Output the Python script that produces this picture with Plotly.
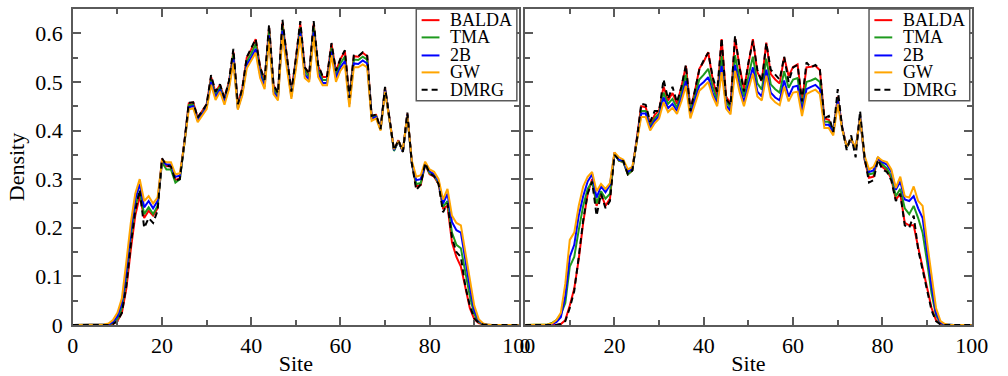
import plotly.graph_objects as go

sites = list(range(0, 101))
series_names = ["BALDA", "TMA", "2B", "GW", "DMRG"]
series_colors = ["#ff0000", "#1e9a1e", "#0000ff", "#ffa500", "#000000"]
x_ticks = [0, 20, 40, 60, 80, 100]
y_ticks = [0, 0.1, 0.2, 0.3, 0.4, 0.5, 0.6]

# ---------------- left panel ----------------
left_balda = [0, 0, 0, 0, 0, 0, 0, 0, 0, 0.002, 0.008, 0.025, 0.075, 0.155, 0.225, 0.265, 0.22, 0.235, 0.225, 0.24,
              0.342, 0.327, 0.326, 0.298, 0.302, 0.375, 0.456, 0.458, 0.426, 0.44, 0.454, 0.51, 0.478, 0.494, 0.467, 0.5,
              0.562, 0.453, 0.487, 0.55, 0.567, 0.588, 0.53, 0.503, 0.612, 0.493, 0.476, 0.622, 0.55, 0.48, 0.547, 0.62,
              0.53, 0.516, 0.62, 0.533, 0.51, 0.51, 0.578, 0.522, 0.547, 0.563, 0.466, 0.553, 0.552, 0.56, 0.553, 0.43,
              0.432, 0.403, 0.488, 0.42, 0.36, 0.38, 0.356, 0.435, 0.333, 0.285, 0.288, 0.33, 0.31, 0.305, 0.29, 0.24,
              0.245, 0.17, 0.14, 0.12, 0.075, 0.035, 0.012, 0.004, 0.001, 0, 0, 0, 0, 0, 0, 0, 0]
left_tma = [0, 0, 0, 0, 0, 0, 0, 0, 0.001, 0.004, 0.012, 0.035, 0.095, 0.18, 0.245, 0.275, 0.228, 0.242, 0.228, 0.245,
            0.335, 0.32, 0.32, 0.293, 0.3, 0.372, 0.452, 0.453, 0.422, 0.436, 0.45, 0.505, 0.473, 0.49, 0.462, 0.495,
            0.556, 0.447, 0.48, 0.542, 0.558, 0.578, 0.522, 0.496, 0.605, 0.486, 0.47, 0.615, 0.543, 0.474, 0.54, 0.612,
            0.523, 0.51, 0.612, 0.526, 0.504, 0.504, 0.57, 0.515, 0.538, 0.552, 0.46, 0.546, 0.545, 0.552, 0.546, 0.427,
            0.43, 0.402, 0.486, 0.418, 0.358, 0.378, 0.356, 0.433, 0.333, 0.29, 0.292, 0.33, 0.312, 0.307, 0.292, 0.243,
            0.255, 0.19, 0.165, 0.158, 0.105, 0.06, 0.022, 0.006, 0.001, 0, 0, 0, 0, 0, 0, 0, 0]
left_2b = [0, 0, 0, 0, 0, 0, 0, 0, 0.001, 0.006, 0.018, 0.045, 0.11, 0.195, 0.258, 0.29, 0.242, 0.255, 0.24, 0.255,
           0.338, 0.33, 0.33, 0.305, 0.307, 0.373, 0.448, 0.45, 0.42, 0.434, 0.448, 0.5, 0.468, 0.485, 0.458, 0.49,
           0.548, 0.445, 0.476, 0.535, 0.55, 0.568, 0.515, 0.49, 0.596, 0.48, 0.466, 0.605, 0.535, 0.47, 0.533, 0.602,
           0.515, 0.505, 0.602, 0.518, 0.498, 0.498, 0.562, 0.508, 0.53, 0.543, 0.455, 0.538, 0.537, 0.544, 0.538, 0.425,
           0.428, 0.402, 0.484, 0.418, 0.36, 0.378, 0.357, 0.432, 0.335, 0.298, 0.3, 0.33, 0.316, 0.31, 0.296, 0.25,
           0.27, 0.212, 0.195, 0.19, 0.13, 0.078, 0.03, 0.009, 0.002, 0, 0, 0, 0, 0, 0, 0, 0]
left_gw = [0, 0, 0, 0, 0, 0, 0, 0.001, 0.003, 0.01, 0.025, 0.055, 0.13, 0.21, 0.27, 0.30, 0.255, 0.265, 0.25, 0.262,
           0.338, 0.335, 0.335, 0.31, 0.312, 0.372, 0.443, 0.446, 0.417, 0.43, 0.444, 0.494, 0.463, 0.48, 0.453, 0.485,
           0.54, 0.443, 0.472, 0.528, 0.543, 0.56, 0.508, 0.485, 0.588, 0.475, 0.462, 0.597, 0.528, 0.465, 0.526, 0.594,
           0.508, 0.5, 0.594, 0.51, 0.493, 0.493, 0.555, 0.5, 0.523, 0.535, 0.448, 0.53, 0.53, 0.536, 0.53, 0.42,
           0.425, 0.4, 0.48, 0.417, 0.362, 0.378, 0.36, 0.43, 0.338, 0.305, 0.308, 0.336, 0.32, 0.315, 0.3, 0.258,
           0.28, 0.225, 0.21, 0.205, 0.15, 0.09, 0.04, 0.012, 0.003, 0, 0, 0, 0, 0, 0, 0, 0]
left_dmrg = [0, 0, 0, 0, 0, 0, 0, 0, 0, 0.002, 0.008, 0.025, 0.08, 0.165, 0.235, 0.278, 0.20, 0.22, 0.21, 0.235,
             0.343, 0.328, 0.326, 0.297, 0.30, 0.375, 0.457, 0.458, 0.427, 0.44, 0.454, 0.514, 0.48, 0.495, 0.467, 0.502,
             0.568, 0.454, 0.487, 0.551, 0.568, 0.588, 0.53, 0.504, 0.618, 0.494, 0.477, 0.628, 0.552, 0.48, 0.548, 0.625,
             0.53, 0.517, 0.625, 0.535, 0.512, 0.512, 0.58, 0.523, 0.548, 0.565, 0.467, 0.554, 0.553, 0.561, 0.554, 0.43,
             0.433, 0.403, 0.49, 0.42, 0.36, 0.38, 0.356, 0.437, 0.333, 0.278, 0.289, 0.333, 0.312, 0.306, 0.29, 0.232,
             0.25, 0.18, 0.15, 0.14, 0.08, 0.04, 0.014, 0.004, 0.001, 0, 0, 0, 0, 0, 0, 0, 0]

# ---------------- right panel ----------------
right_balda = [0, 0, 0, 0, 0, 0, 0, 0, 0.002, 0.01, 0.04, 0.075, 0.135, 0.21, 0.27, 0.30, 0.245, 0.27, 0.245, 0.26,
               0.355, 0.338, 0.335, 0.31, 0.318, 0.38, 0.45, 0.448, 0.413, 0.432, 0.442, 0.49, 0.462, 0.477, 0.455, 0.49,
               0.533, 0.445, 0.48, 0.527, 0.542, 0.561, 0.505, 0.47, 0.588, 0.47, 0.455, 0.59, 0.532, 0.485, 0.538, 0.588,
               0.52, 0.502, 0.581, 0.516, 0.505, 0.497, 0.551, 0.512, 0.531, 0.536, 0.46, 0.53, 0.531, 0.533, 0.524, 0.425,
               0.422, 0.398, 0.47, 0.407, 0.366, 0.382, 0.36, 0.428, 0.34, 0.303, 0.305, 0.345, 0.325, 0.318, 0.3, 0.258,
               0.27, 0.21, 0.205, 0.205, 0.16, 0.12, 0.075, 0.035, 0.01, 0.002, 0, 0, 0, 0, 0, 0, 0]
right_tma = [0, 0, 0, 0, 0, 0.001, 0.004, 0.01, 0.022, 0.045, 0.12, 0.14, 0.195, 0.245, 0.28, 0.295, 0.25, 0.275, 0.26, 0.27,
             0.352, 0.338, 0.335, 0.31, 0.318, 0.378, 0.44, 0.44, 0.408, 0.425, 0.435, 0.478, 0.455, 0.465, 0.447, 0.478,
             0.515, 0.44, 0.47, 0.505, 0.515, 0.527, 0.49, 0.462, 0.553, 0.46, 0.446, 0.555, 0.505, 0.47, 0.512, 0.552,
             0.497, 0.484, 0.548, 0.495, 0.485, 0.478, 0.522, 0.488, 0.505, 0.508, 0.45, 0.5, 0.503, 0.507, 0.5, 0.418,
             0.418, 0.397, 0.465, 0.405, 0.365, 0.382, 0.36, 0.428, 0.342, 0.31, 0.312, 0.345, 0.33, 0.322, 0.305, 0.265,
             0.28, 0.24, 0.228, 0.245, 0.22, 0.19, 0.13, 0.065, 0.02, 0.004, 0.001, 0, 0, 0, 0, 0, 0]
right_2b = [0, 0, 0, 0, 0, 0, 0.002, 0.006, 0.016, 0.06, 0.14, 0.165, 0.225, 0.265, 0.295, 0.31, 0.262, 0.285, 0.273, 0.288,
            0.353, 0.34, 0.337, 0.315, 0.322, 0.377, 0.435, 0.435, 0.404, 0.42, 0.43, 0.468, 0.446, 0.455, 0.44, 0.468,
            0.502, 0.433, 0.462, 0.492, 0.5, 0.51, 0.477, 0.455, 0.533, 0.452, 0.44, 0.535, 0.49, 0.458, 0.495, 0.53,
            0.48, 0.47, 0.525, 0.478, 0.468, 0.462, 0.503, 0.47, 0.49, 0.492, 0.44, 0.485, 0.49, 0.494, 0.485, 0.412,
            0.412, 0.395, 0.462, 0.404, 0.366, 0.382, 0.362, 0.428, 0.345, 0.315, 0.318, 0.343, 0.335, 0.33, 0.315, 0.278,
            0.295, 0.258, 0.255, 0.265, 0.24, 0.22, 0.15, 0.08, 0.025, 0.005, 0.001, 0, 0, 0, 0, 0, 0]
right_gw = [0, 0, 0, 0, 0, 0.001, 0.003, 0.01, 0.025, 0.085, 0.175, 0.19, 0.245, 0.285, 0.305, 0.315, 0.275, 0.29, 0.28, 0.292,
            0.355, 0.345, 0.34, 0.32, 0.325, 0.375, 0.428, 0.428, 0.4, 0.415, 0.425, 0.458, 0.438, 0.447, 0.434, 0.46,
            0.492, 0.425, 0.455, 0.482, 0.49, 0.5, 0.47, 0.45, 0.52, 0.445, 0.433, 0.523, 0.48, 0.45, 0.485, 0.517,
            0.47, 0.462, 0.513, 0.468, 0.458, 0.452, 0.49, 0.46, 0.478, 0.48, 0.43, 0.475, 0.48, 0.484, 0.475, 0.405,
            0.405, 0.39, 0.455, 0.402, 0.367, 0.383, 0.364, 0.425, 0.348, 0.32, 0.325, 0.345, 0.338, 0.335, 0.32, 0.282,
            0.305, 0.265, 0.262, 0.285, 0.255, 0.245, 0.17, 0.1, 0.035, 0.008, 0.002, 0, 0, 0, 0, 0, 0]
right_dmrg = [0, 0, 0, 0, 0, 0, 0, 0, 0.002, 0.008, 0.035, 0.07, 0.14, 0.215, 0.27, 0.295, 0.225, 0.27, 0.24, 0.255,
              0.35, 0.34, 0.337, 0.31, 0.318, 0.38, 0.455, 0.453, 0.418, 0.44, 0.44, 0.505, 0.465, 0.49, 0.458, 0.49,
              0.535, 0.44, 0.482, 0.525, 0.545, 0.56, 0.51, 0.48, 0.59, 0.465, 0.452, 0.595, 0.53, 0.48, 0.54, 0.585,
              0.525, 0.5, 0.58, 0.525, 0.515, 0.505, 0.552, 0.5, 0.53, 0.535, 0.46, 0.54, 0.53, 0.535, 0.525, 0.425,
              0.43, 0.397, 0.485, 0.405, 0.36, 0.39, 0.345, 0.44, 0.345, 0.293, 0.298, 0.34, 0.32, 0.315, 0.297, 0.255,
              0.27, 0.205, 0.2, 0.225, 0.155, 0.115, 0.07, 0.03, 0.008, 0.001, 0, 0, 0, 0, 0, 0, 0]

left_series = [left_balda, left_tma, left_2b, left_gw, left_dmrg]
right_series = [right_balda, right_tma, right_2b, right_gw, right_dmrg]

FONT = "Liberation Serif"
AXIS_COLOR = "#5a5a5a"

fig = go.Figure()
for panel, (xa, ya, data) in enumerate([("x", "y", left_series), ("x2", "y2", right_series)]):
    for name, color, vals in zip(series_names, series_colors, data):
        fig.add_trace(go.Scatter(
            x=sites, y=vals, mode="lines", name=name, xaxis=xa, yaxis=ya,
            line=dict(color=color, width=2, dash="6px,4px" if name == "DMRG" else "solid"),
            showlegend=False,
        ))

W, H = 1008, 376
axis_common = dict(
    showgrid=False, zeroline=False, showline=True, linecolor=AXIS_COLOR, linewidth=1.5,
    mirror="ticks", ticks="inside", ticklen=8, tickwidth=1.5, tickcolor=AXIS_COLOR,
    tickfont=dict(family=FONT, size=22, color="black"),
)
xaxis_common = dict(axis_common, range=[0, 100], tickvals=x_ticks,
                    minor=dict(ticks="inside", ticklen=5, dtick=10, tick0=0, tickcolor=AXIS_COLOR, tickwidth=1.5),
                    title=dict(text="Site", font=dict(family=FONT, size=22, color="black"), standoff=2))
yaxis_common = dict(axis_common, range=[0, 0.65], tickvals=y_ticks,
                    minor=dict(ticks="inside", ticklen=5, dtick=0.05, tick0=0, tickcolor=AXIS_COLOR, tickwidth=1.5))

fig.update_layout(
    width=W, height=H,
    margin=dict(l=0, r=0, t=9, b=44),
    paper_bgcolor="white", plot_bgcolor="white",
    font=dict(family=FONT, color="black"),
    xaxis=dict(xaxis_common, domain=[68.3 / W, 524.3 / W], anchor="y"),
    yaxis=dict(yaxis_common, domain=[0, 1], anchor="x", ticklabelstandoff=4,
               title=dict(text="Density", font=dict(family=FONT, size=22, color="black"), standoff=4)),
    xaxis2=dict(xaxis_common, domain=[530.7 / W, 987.3 / W], anchor="y2"),
    yaxis2=dict(yaxis_common, domain=[0, 1], anchor="x2", showticklabels=False),
)

# legends drawn inside each panel (top right), built from the series names/colours
row_y = [0.9647, 0.9101, 0.8530, 0.7994, 0.7445]
shapes = []
annotations = []
for xa in ["x", "x2"]:
    yref = f"{'y' if xa == 'x' else 'y2'} domain"
    shapes.append(dict(type="rect", xref=f"{xa} domain", yref=yref,
                       x0=0.770, x1=0.9955, y0=0.710, y1=1.0, fillcolor="white",
                       line=dict(color=AXIS_COLOR, width=1.5), layer="above"))
    for name, color, ry in zip(series_names, series_colors, row_y):
        shapes.append(dict(type="line", xref=f"{xa} domain", yref=yref, x0=0.782, x1=0.822, y0=ry, y1=ry,
                           line=dict(color=color, width=2, dash="6px,4px" if name == "DMRG" else "solid"),
                           layer="above"))
        annotations.append(dict(text=name, xref=f"{xa} domain", yref=yref, x=0.8435, y=ry,
                                xanchor="left", yanchor="middle", showarrow=False, borderpad=0,
                                font=dict(family=FONT, size=18, color="black")))
fig.update_layout(shapes=shapes, annotations=annotations)

fig.write_html("out.html")
